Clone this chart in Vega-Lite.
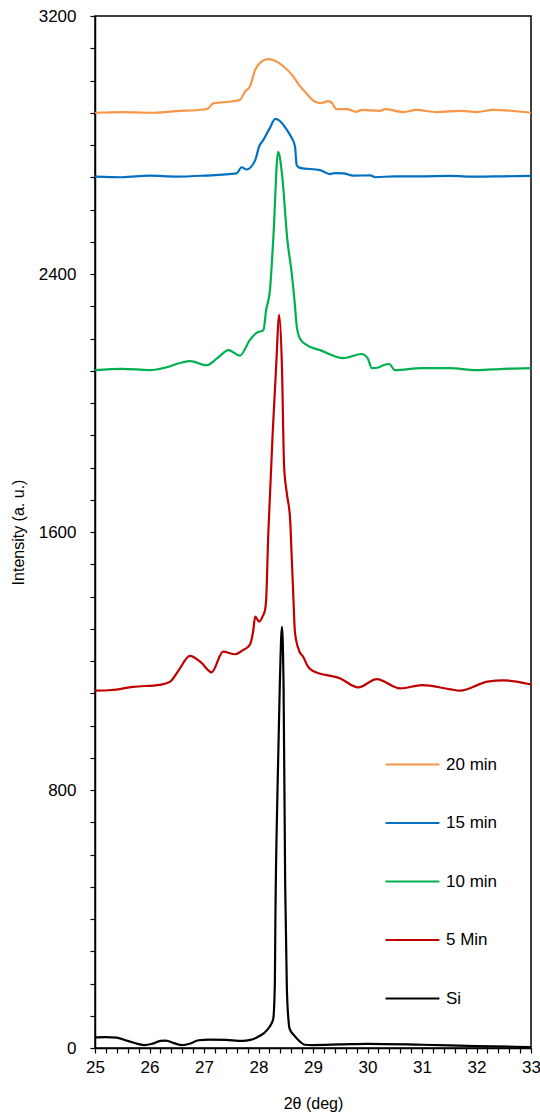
{
  "$schema": "https://vega.github.io/schema/vega-lite/v6.json",
  "width": 436,
  "height": 1032,
  "autosize": {"type": "none"},
  "padding": {"left": 95, "top": 16, "right": 9, "bottom": 72},
  "background": "white",
  "config": {
    "font": "Liberation Sans",
    "view": {"stroke": "black", "strokeWidth": 1.5},
    "axis": {
      "grid": false,
      "domainColor": "black",
      "domainWidth": 1.5,
      "tickColor": "black",
      "tickWidth": 1.2,
      "tickSize": 5,
      "labelColor": "black",
      "labelFontSize": 17,
      "titleColor": "black",
      "titleFontSize": 16,
      "titleFontWeight": "normal"
    }
  },
  "datasets": {
    "xrd": [
      {"s": "Si", "x": 25.0, "y": 33}, {"s": "Si", "x": 25.2, "y": 34}, {"s": "Si", "x": 25.4, "y": 32}, {"s": "Si", "x": 25.6, "y": 22}, {"s": "Si", "x": 25.8, "y": 12}, {"s": "Si", "x": 25.9, "y": 9}, {"s": "Si", "x": 26.05, "y": 13}, {"s": "Si", "x": 26.2, "y": 22}, {"s": "Si", "x": 26.3, "y": 23}, {"s": "Si", "x": 26.45, "y": 15}, {"s": "Si", "x": 26.6, "y": 9}, {"s": "Si", "x": 26.75, "y": 14}, {"s": "Si", "x": 26.9, "y": 24}, {"s": "Si", "x": 27.1, "y": 26}, {"s": "Si", "x": 27.4, "y": 25}, {"s": "Si", "x": 27.7, "y": 22}, {"s": "Si", "x": 27.85, "y": 25}, {"s": "Si", "x": 27.95, "y": 31}, {"s": "Si", "x": 28.1, "y": 46}, {"s": "Si", "x": 28.2, "y": 65}, {"s": "Si", "x": 28.27, "y": 90}, {"s": "Si", "x": 28.3, "y": 200}, {"s": "Si", "x": 28.31, "y": 400}, {"s": "Si", "x": 28.35, "y": 810}, {"s": "Si", "x": 28.39, "y": 1120}, {"s": "Si", "x": 28.43, "y": 1306}, {"s": "Si", "x": 28.46, "y": 1120}, {"s": "Si", "x": 28.49, "y": 500}, {"s": "Si", "x": 28.52, "y": 190}, {"s": "Si", "x": 28.55, "y": 87}, {"s": "Si", "x": 28.57, "y": 60}, {"s": "Si", "x": 28.65, "y": 40}, {"s": "Si", "x": 28.76, "y": 20}, {"s": "Si", "x": 28.85, "y": 10}, {"s": "Si", "x": 29.0, "y": 9}, {"s": "Si", "x": 29.5, "y": 11}, {"s": "Si", "x": 30.0, "y": 13}, {"s": "Si", "x": 31.0, "y": 10}, {"s": "Si", "x": 32.0, "y": 6}, {"s": "Si", "x": 33.0, "y": 3},

      {"s": "5 Min", "x": 25.0, "y": 1108}, {"s": "5 Min", "x": 25.3, "y": 1110}, {"s": "5 Min", "x": 25.7, "y": 1120}, {"s": "5 Min", "x": 26.19, "y": 1126}, {"s": "5 Min", "x": 26.38, "y": 1136}, {"s": "5 Min", "x": 26.55, "y": 1175}, {"s": "5 Min", "x": 26.74, "y": 1216}, {"s": "5 Min", "x": 26.95, "y": 1195}, {"s": "5 Min", "x": 27.14, "y": 1165}, {"s": "5 Min", "x": 27.35, "y": 1229}, {"s": "5 Min", "x": 27.57, "y": 1221}, {"s": "5 Min", "x": 27.7, "y": 1232}, {"s": "5 Min", "x": 27.84, "y": 1250}, {"s": "5 Min", "x": 27.9, "y": 1290}, {"s": "5 Min", "x": 27.94, "y": 1338}, {"s": "5 Min", "x": 28.01, "y": 1322}, {"s": "5 Min", "x": 28.08, "y": 1340}, {"s": "5 Min", "x": 28.12, "y": 1358}, {"s": "5 Min", "x": 28.14, "y": 1389}, {"s": "5 Min", "x": 28.18, "y": 1596}, {"s": "5 Min", "x": 28.22, "y": 1750}, {"s": "5 Min", "x": 28.26, "y": 1906}, {"s": "5 Min", "x": 28.32, "y": 2100}, {"s": "5 Min", "x": 28.38, "y": 2273}, {"s": "5 Min", "x": 28.43, "y": 2113}, {"s": "5 Min", "x": 28.47, "y": 1803}, {"s": "5 Min", "x": 28.52, "y": 1720}, {"s": "5 Min", "x": 28.58, "y": 1640}, {"s": "5 Min", "x": 28.61, "y": 1520}, {"s": "5 Min", "x": 28.63, "y": 1440}, {"s": "5 Min", "x": 28.67, "y": 1287}, {"s": "5 Min", "x": 28.75, "y": 1230}, {"s": "5 Min", "x": 28.82, "y": 1213}, {"s": "5 Min", "x": 28.9, "y": 1185}, {"s": "5 Min", "x": 29.0, "y": 1169}, {"s": "5 Min", "x": 29.5, "y": 1146}, {"s": "5 Min", "x": 29.83, "y": 1118}, {"s": "5 Min", "x": 30.17, "y": 1144}, {"s": "5 Min", "x": 30.6, "y": 1115}, {"s": "5 Min", "x": 31.0, "y": 1125}, {"s": "5 Min", "x": 31.5, "y": 1113}, {"s": "5 Min", "x": 31.7, "y": 1108}, {"s": "5 Min", "x": 32.2, "y": 1136}, {"s": "5 Min", "x": 32.5, "y": 1140}, {"s": "5 Min", "x": 33.0, "y": 1127},

      {"s": "10 min", "x": 25.0, "y": 2102}, {"s": "10 min", "x": 25.5, "y": 2106}, {"s": "10 min", "x": 26.0, "y": 2102}, {"s": "10 min", "x": 26.3, "y": 2110}, {"s": "10 min", "x": 26.56, "y": 2124}, {"s": "10 min", "x": 26.75, "y": 2130}, {"s": "10 min", "x": 27.05, "y": 2117}, {"s": "10 min", "x": 27.25, "y": 2140}, {"s": "10 min", "x": 27.45, "y": 2164}, {"s": "10 min", "x": 27.66, "y": 2147}, {"s": "10 min", "x": 27.84, "y": 2195}, {"s": "10 min", "x": 27.97, "y": 2218}, {"s": "10 min", "x": 28.09, "y": 2226}, {"s": "10 min", "x": 28.14, "y": 2288}, {"s": "10 min", "x": 28.21, "y": 2350}, {"s": "10 min", "x": 28.27, "y": 2505}, {"s": "10 min", "x": 28.36, "y": 2779}, {"s": "10 min", "x": 28.43, "y": 2712}, {"s": "10 min", "x": 28.53, "y": 2505}, {"s": "10 min", "x": 28.61, "y": 2402}, {"s": "10 min", "x": 28.67, "y": 2300}, {"s": "10 min", "x": 28.7, "y": 2240}, {"s": "10 min", "x": 28.76, "y": 2200}, {"s": "10 min", "x": 28.88, "y": 2180}, {"s": "10 min", "x": 29.13, "y": 2164}, {"s": "10 min", "x": 29.56, "y": 2139}, {"s": "10 min", "x": 29.89, "y": 2152}, {"s": "10 min", "x": 30.0, "y": 2140}, {"s": "10 min", "x": 30.08, "y": 2108}, {"s": "10 min", "x": 30.2, "y": 2110}, {"s": "10 min", "x": 30.3, "y": 2118}, {"s": "10 min", "x": 30.4, "y": 2121}, {"s": "10 min", "x": 30.5, "y": 2102}, {"s": "10 min", "x": 31.0, "y": 2108}, {"s": "10 min", "x": 31.5, "y": 2108}, {"s": "10 min", "x": 32.0, "y": 2102}, {"s": "10 min", "x": 32.5, "y": 2106}, {"s": "10 min", "x": 33.0, "y": 2108},

      {"s": "15 min", "x": 25.0, "y": 2702}, {"s": "15 min", "x": 25.5, "y": 2700}, {"s": "15 min", "x": 26.0, "y": 2705}, {"s": "15 min", "x": 26.5, "y": 2702}, {"s": "15 min", "x": 27.0, "y": 2705}, {"s": "15 min", "x": 27.6, "y": 2712}, {"s": "15 min", "x": 27.69, "y": 2731}, {"s": "15 min", "x": 27.78, "y": 2724}, {"s": "15 min", "x": 27.94, "y": 2753}, {"s": "15 min", "x": 28.01, "y": 2795}, {"s": "15 min", "x": 28.09, "y": 2816}, {"s": "15 min", "x": 28.2, "y": 2850}, {"s": "15 min", "x": 28.31, "y": 2881}, {"s": "15 min", "x": 28.42, "y": 2870}, {"s": "15 min", "x": 28.52, "y": 2847}, {"s": "15 min", "x": 28.6, "y": 2825}, {"s": "15 min", "x": 28.67, "y": 2795}, {"s": "15 min", "x": 28.7, "y": 2738}, {"s": "15 min", "x": 28.76, "y": 2729}, {"s": "15 min", "x": 29.13, "y": 2722}, {"s": "15 min", "x": 29.31, "y": 2710}, {"s": "15 min", "x": 29.4, "y": 2713}, {"s": "15 min", "x": 29.56, "y": 2712}, {"s": "15 min", "x": 29.74, "y": 2705}, {"s": "15 min", "x": 30.05, "y": 2706}, {"s": "15 min", "x": 30.14, "y": 2700}, {"s": "15 min", "x": 30.5, "y": 2703}, {"s": "15 min", "x": 31.0, "y": 2703}, {"s": "15 min", "x": 31.5, "y": 2704}, {"s": "15 min", "x": 32.0, "y": 2702}, {"s": "15 min", "x": 32.5, "y": 2703}, {"s": "15 min", "x": 33.0, "y": 2704},

      {"s": "20 min", "x": 25.0, "y": 2900}, {"s": "20 min", "x": 25.5, "y": 2902}, {"s": "20 min", "x": 26.0, "y": 2900}, {"s": "20 min", "x": 26.5, "y": 2905}, {"s": "20 min", "x": 27.0, "y": 2910}, {"s": "20 min", "x": 27.08, "y": 2914}, {"s": "20 min", "x": 27.17, "y": 2929}, {"s": "20 min", "x": 27.5, "y": 2935}, {"s": "20 min", "x": 27.66, "y": 2940}, {"s": "20 min", "x": 27.75, "y": 2965}, {"s": "20 min", "x": 27.84, "y": 2981}, {"s": "20 min", "x": 27.94, "y": 3033}, {"s": "20 min", "x": 28.05, "y": 3058}, {"s": "20 min", "x": 28.18, "y": 3066}, {"s": "20 min", "x": 28.33, "y": 3059}, {"s": "20 min", "x": 28.45, "y": 3045}, {"s": "20 min", "x": 28.64, "y": 3012}, {"s": "20 min", "x": 28.75, "y": 2985}, {"s": "20 min", "x": 28.88, "y": 2960}, {"s": "20 min", "x": 29.04, "y": 2934}, {"s": "20 min", "x": 29.15, "y": 2930}, {"s": "20 min", "x": 29.28, "y": 2936}, {"s": "20 min", "x": 29.35, "y": 2930}, {"s": "20 min", "x": 29.43, "y": 2911}, {"s": "20 min", "x": 29.62, "y": 2911}, {"s": "20 min", "x": 29.8, "y": 2903}, {"s": "20 min", "x": 29.89, "y": 2909}, {"s": "20 min", "x": 30.23, "y": 2906}, {"s": "20 min", "x": 30.32, "y": 2911}, {"s": "20 min", "x": 30.66, "y": 2902}, {"s": "20 min", "x": 30.9, "y": 2909}, {"s": "20 min", "x": 31.27, "y": 2902}, {"s": "20 min", "x": 31.7, "y": 2906}, {"s": "20 min", "x": 32.0, "y": 2902}, {"s": "20 min", "x": 32.3, "y": 2909}, {"s": "20 min", "x": 33.0, "y": 2900}
    ]
  },
  "data": {"name": "xrd"},
  "mark": {"type": "line", "strokeWidth": 2.2, "interpolate": "monotone"},
  "encoding": {
    "x": {
      "field": "x",
      "type": "quantitative",
      "title": "2θ (deg)",
      "scale": {"domain": [25, 33], "nice": false, "zero": false},
      "axis": {
        "values": [25, 25.2, 25.4, 25.6, 25.8, 26, 26.2, 26.4, 26.6, 26.8, 27, 27.2, 27.4, 27.6, 27.8, 28, 28.2, 28.4, 28.6, 28.8, 29, 29.2, 29.4, 29.6, 29.8, 30, 30.2, 30.4, 30.6, 30.8, 31, 31.2, 31.4, 31.6, 31.8, 32, 32.2, 32.4, 32.6, 32.8, 33],
        "labelExpr": "abs(datum.value - round(datum.value)) < 0.01 ? format(datum.value, 'd') : ''",
        "labelPadding": 6,
        "titlePadding": 20,
        "labelFlush": false
      }
    },
    "y": {
      "field": "y",
      "type": "quantitative",
      "title": "Intensity (a. u.)",
      "scale": {"domain": [0, 3200], "nice": false},
      "axis": {
        "values": [0, 100, 200, 300, 400, 500, 600, 700, 800, 900, 1000, 1100, 1200, 1300, 1400, 1500, 1600, 1700, 1800, 1900, 2000, 2100, 2200, 2300, 2400, 2500, 2600, 2700, 2800, 2900, 3000, 3100, 3200],
        "labelExpr": "datum.value % 800 == 0 ? format(datum.value, 'd') : ''",
        "labelPadding": 14,
        "titlePadding": 12,
        "labelFlush": false
      }
    },
    "color": {
      "field": "s",
      "type": "nominal",
      "title": null,
      "scale": {
        "domain": ["20 min", "15 min", "10 min", "5 Min", "Si"],
        "range": ["#F79646", "#0070C0", "#00B050", "#C00000", "#000000"]
      },
      "legend": {
        "orient": "none",
        "legendX": 289,
        "legendY": 720,
        "symbolType": "stroke",
        "symbolSize": 2900,
        "symbolStrokeWidth": 2.2,
        "labelFontSize": 17,
        "labelColor": "black",
        "labelOffset": 5,
        "rowPadding": 21.5,
        "padding": 0
      }
    }
  }
}
